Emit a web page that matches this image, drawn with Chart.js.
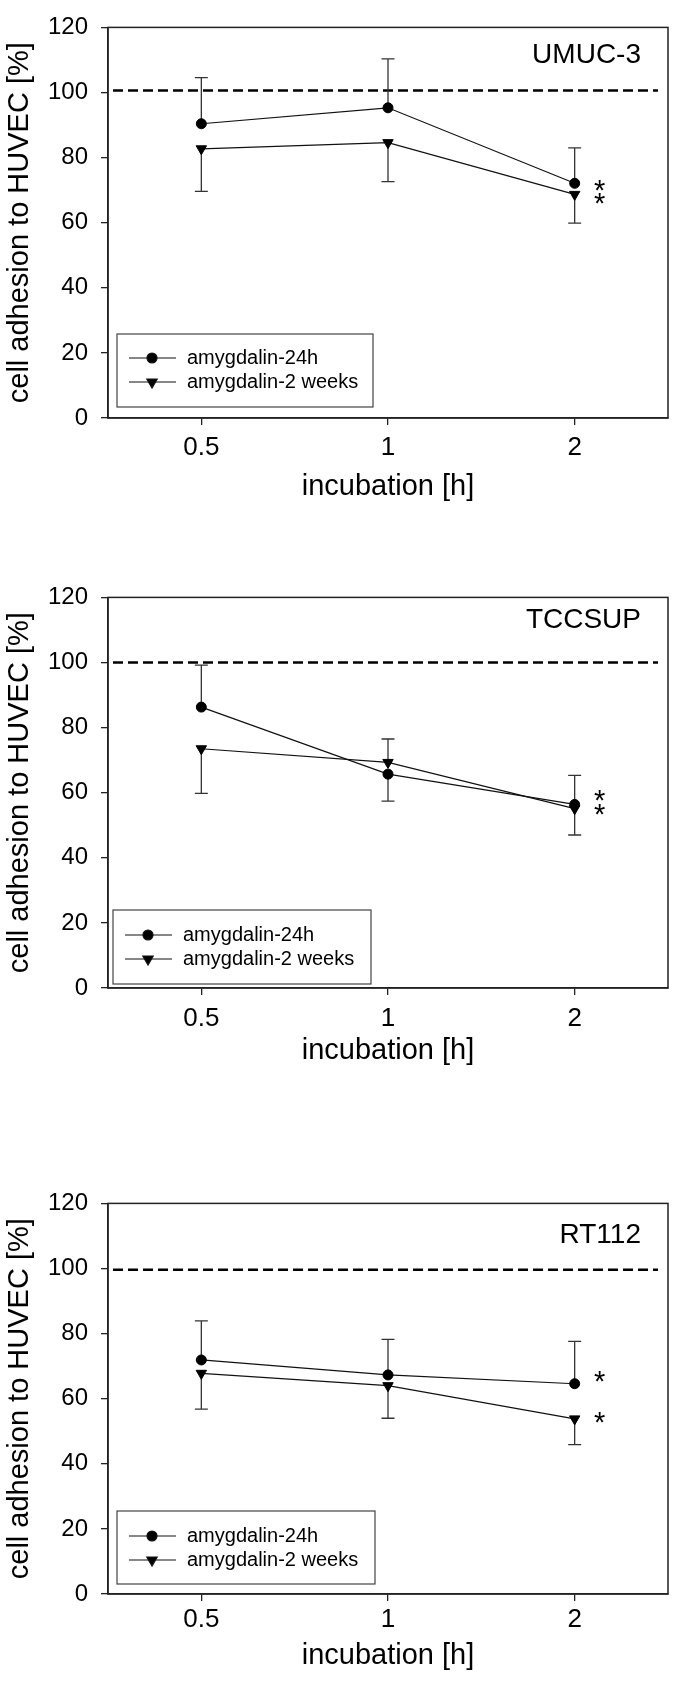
<!DOCTYPE html>
<html>
<head>
<meta charset="utf-8">
<script src="https://cdn.jsdelivr.net/npm/chart.js@4/dist/chart.umd.min.js"></script>
<style>
  body { margin: 0; background: #fff; }
  #wrap { position: relative; width: 677px; height: 1685px; }
  canvas { position: absolute; left: 0; }
</style>
</head>
<body>
<div id="wrap">
  <canvas id="umuc" width="677" height="510" style="top:0px"></canvas>
  <canvas id="tccsup" width="677" height="510" style="top:570px"></canvas>
  <canvas id="rt112" width="677" height="509" style="top:1176px"></canvas>
</div>
<script>
const incubation = ['0.5', '1', '2'];
const seriesNames = ['amygdalin-24h', 'amygdalin-2 weeks'];

// UMUC-3
const umucH24 = [90.4, 95.3, 72.1];
const umucH24Up = [14.2, 15.0, 10.9];
const umucH24Down = [0, 0, 0];
const umucW2 = [82.7, 84.6, 68.7];
const umucW2Up = [0, 0, 0];
const umucW2Down = [13.1, 12.0, 8.8];
const umucStars = [71.3, 67.3];
const umucControl = 100.6;

// TCCSUP
const tccH24 = [86.3, 65.7, 56.4];
const tccH24Up = [12.9, 0, 8.9];
const tccH24Down = [0, 8.3, 0];
const tccW2 = [73.5, 69.3, 55.1];
const tccW2Up = [0, 7.2, 0];
const tccW2Down = [13.7, 0, 8.1];
const tccStars = [58.9, 54.7];
const tccControl = 100;

// RT112
const rtH24 = [71.9, 67.3, 64.6];
const rtH24Up = [12.0, 10.9, 13.0];
const rtH24Down = [0, 0, 0];
const rtW2 = [67.8, 64.0, 53.8];
const rtW2Up = [0, 0, 0];
const rtW2Down = [11.0, 10.0, 7.9];
const rtStars = [66.6, 54.0];
const rtControl = 99.6;

const FONT = '"Liberation Sans", Arial, Helvetica, sans-serif';
const PLOT_BOTTOM = 418;

// dashed control line, error bars, frame, cell line name, stars and boxed legend
const extras = {
    id: 'extras',
    beforeDatasetsDraw(chart, args, opts) {
        const { ctx, chartArea: a } = chart;
        const x = chart.scales.x, y = chart.scales.y;

        ctx.save();
        ctx.strokeStyle = '#000';
        ctx.lineWidth = 2.5;
        ctx.setLineDash([10, 5]);
        const yc = y.getPixelForValue(opts.control);
        ctx.beginPath();
        ctx.moveTo(a.left + 5, yc);
        ctx.lineTo(a.right - 10, yc);
        ctx.stroke();
        ctx.restore();

        ctx.save();
        ctx.strokeStyle = '#333';
        ctx.lineWidth = 1.3;
        chart.data.datasets.forEach(ds => {
            ds.data.forEach((v, i) => {
                const px = x.getPixelForValue(i);
                [[ds.errUp[i], 1], [ds.errDown[i], -1]].forEach(([e, s]) => {
                    if (!e) return;
                    const y0 = y.getPixelForValue(v);
                    const y1 = y.getPixelForValue(v + s * e);
                    ctx.beginPath();
                    ctx.moveTo(px, y0);
                    ctx.lineTo(px, y1);
                    ctx.moveTo(px - 6.5, y1);
                    ctx.lineTo(px + 6.5, y1);
                    ctx.stroke();
                });
            });
        });
        ctx.restore();
    },
    afterDraw(chart, args, opts) {
        const { ctx, chartArea: a } = chart;
        const x = chart.scales.x, y = chart.scales.y;

        ctx.save();
        ctx.strokeStyle = '#222';
        ctx.lineWidth = 1.5;
        ctx.strokeRect(a.left, a.top, a.right - a.left, a.bottom - a.top);

        ctx.fillStyle = '#000';
        ctx.font = '28px ' + FONT;
        ctx.textAlign = 'right';
        ctx.textBaseline = 'middle';
        ctx.fillText(opts.cell, a.right - 27, a.top + opts.cellDy);

        ctx.font = '29px ' + FONT;
        ctx.textAlign = 'center';
        ctx.textBaseline = 'alphabetic';
        const sx = x.getPixelForValue(2) + 25;
        opts.stars.forEach(v => {
            ctx.fillText('*', sx, y.getPixelForValue(v) + 14);
        });

        const lg = opts.legend;
        const bx = a.left + lg.dx, by = a.bottom - lg.dy;
        ctx.strokeStyle = '#444';
        ctx.lineWidth = 1.2;
        ctx.strokeRect(bx, by, lg.w, lg.h);
        ctx.font = '20px ' + FONT;
        ctx.textAlign = 'left';
        ctx.textBaseline = 'middle';
        chart.data.datasets.forEach((ds, k) => {
            const ry = by + lg.row + k * 24;
            ctx.strokeStyle = '#111';
            ctx.beginPath();
            ctx.moveTo(bx + 12, ry);
            ctx.lineTo(bx + 59, ry);
            ctx.stroke();
            ctx.fillStyle = '#000';
            Chart.helpers.drawPoint(ctx, {
                pointStyle: ds.pointStyle,
                radius: ds.pointRadius,
                rotation: ds.pointRotation || 0,
                borderWidth: 1
            }, bx + 35, ry);
            ctx.fillText(ds.label, bx + 70, ry);
        });
        ctx.restore();
    }
};

function makeChart(id, cfg) {
    const canvas = document.getElementById(id);
    return new Chart(canvas, {
        type: 'line',
        data: {
            labels: incubation,
            datasets: [{
                label: seriesNames[0],
                data: cfg.h24,
                errUp: cfg.h24Up,
                errDown: cfg.h24Down,
                borderColor: '#111',
                borderWidth: 1.2,
                pointStyle: 'circle',
                pointRadius: 5,
                pointBackgroundColor: '#000',
                pointBorderColor: '#000',
                pointBorderWidth: 1
            }, {
                label: seriesNames[1],
                data: cfg.w2,
                errUp: cfg.w2Up,
                errDown: cfg.w2Down,
                borderColor: '#111',
                borderWidth: 1.2,
                pointStyle: 'triangle',
                pointRotation: 180,
                pointRadius: 6,
                pointBackgroundColor: '#000',
                pointBorderColor: '#000',
                pointBorderWidth: 1
            }]
        },
        options: {
            responsive: false,
            animation: false,
            devicePixelRatio: 1,
            layout: { padding: { top: 16, right: 9, bottom: 0, left: 0 } },
            plugins: {
                legend: { display: false },
                tooltip: { enabled: false },
                extras: {
                    control: cfg.control,
                    cell: cfg.cell,
                    cellDy: cfg.cellDy,
                    stars: cfg.stars,
                    legend: cfg.legend
                }
            },
            scales: {
                x: {
                    type: 'category',
                    offset: true,
                    afterFit: s => { s.height = canvas.height - PLOT_BOTTOM; },
                    grid: { drawOnChartArea: false, tickLength: 7, color: '#222', lineWidth: 1.3 },
                    border: { color: '#222', width: 1.5 },
                    ticks: {
                        color: '#000',
                        font: { family: FONT, size: 26 },
                        padding: cfg.xTickPad,
                        maxRotation: 0,
                        autoSkip: false
                    },
                    title: {
                        display: true,
                        text: 'incubation [h]',
                        color: '#000',
                        font: { family: FONT, size: 29 },
                        padding: { top: 0, bottom: cfg.xTitlePad }
                    }
                },
                y: {
                    min: 0,
                    max: 120,
                    afterFit: s => { s.width = 108; },
                    grid: { drawOnChartArea: false, tickLength: 7, color: '#222', lineWidth: 1.3 },
                    border: { color: '#222', width: 1.5 },
                    ticks: {
                        stepSize: 20,
                        color: '#000',
                        font: { family: FONT, size: 24 },
                        padding: 13
                    },
                    title: {
                        display: true,
                        text: 'cell adhesion to HUVEC [%]',
                        color: '#000',
                        font: { family: FONT, size: 29 },
                        padding: { top: 3, bottom: 0 }
                    }
                }
            }
        },
        plugins: [extras]
    });
}

makeChart('umuc', {
    h24: umucH24, h24Up: umucH24Up, h24Down: umucH24Down,
    w2: umucW2, w2Up: umucW2Up, w2Down: umucW2Down,
    stars: umucStars, control: umucControl,
    cell: 'UMUC-3', cellDy: 28,
    legend: { dx: 9, dy: 84, w: 256, h: 73, row: 24 },
    xTickPad: 7, xTitlePad: 6
});

makeChart('tccsup', {
    h24: tccH24, h24Up: tccH24Up, h24Down: tccH24Down,
    w2: tccW2, w2Up: tccW2Up, w2Down: tccW2Down,
    stars: tccStars, control: tccControl,
    cell: 'TCCSUP', cellDy: 23,
    legend: { dx: 5, dy: 78, w: 258, h: 74, row: 25 },
    xTickPad: 8, xTitlePad: 12
});

makeChart('rt112', {
    h24: rtH24, h24Up: rtH24Up, h24Down: rtH24Down,
    w2: rtW2, w2Up: rtW2Up, w2Down: rtW2Down,
    stars: rtStars, control: rtControl,
    cell: 'RT112', cellDy: 32,
    legend: { dx: 9, dy: 83, w: 258, h: 73, row: 25 },
    xTickPad: 3, xTitlePad: 12
});
</script>
</body>
</html>
